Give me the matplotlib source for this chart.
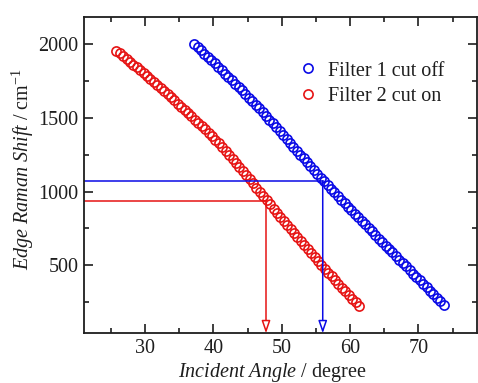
import matplotlib
matplotlib.use("Agg")
import matplotlib.pyplot as plt
from matplotlib.ticker import MultipleLocator

# =========================
# DATA
# =========================
filter1_angle = [37.2, 37.7, 38.2, 38.7, 39.2, 39.7, 40.2, 40.7, 41.2, 41.7,
                 42.2, 42.7, 43.2, 43.7, 44.2, 44.7, 45.2, 45.7, 46.2, 46.7,
                 47.2, 47.7, 48.2, 48.7, 49.2, 49.7, 50.2, 50.7, 51.2, 51.7,
                 52.2, 52.7, 53.2, 53.7, 54.2, 54.7, 55.2, 55.7, 56.2, 56.7,
                 57.2, 57.7, 58.2, 58.7, 59.2, 59.7, 60.2, 60.7, 61.2, 61.7,
                 62.2, 62.7, 63.2, 63.7, 64.2, 64.7, 65.2, 65.7, 66.2, 66.7,
                 67.2, 67.7, 68.2, 68.7, 69.2, 69.7, 70.2, 70.7, 71.2, 71.7,
                 72.2, 72.7, 73.2, 73.7]
filter1_shift = [2000, 1978, 1956, 1934, 1912, 1890, 1868, 1845, 1823, 1800,
                 1777, 1754, 1731, 1708, 1685, 1661, 1637, 1612, 1588, 1563,
                 1538, 1513, 1487, 1462, 1436, 1410, 1384, 1357, 1331, 1304,
                 1277, 1250, 1224, 1197, 1171, 1145, 1119, 1094, 1068, 1043,
                 1018, 994, 969, 945, 921, 896, 872, 848, 824, 800,
                 777, 753, 729, 705, 681, 658, 634, 610, 587, 563,
                 539, 516, 492, 468, 444, 421, 397, 373, 350, 326,
                 302, 279, 255, 231]

filter2_angle = [25.8, 26.3, 26.8, 27.3, 27.8, 28.3, 28.8, 29.3, 29.8, 30.3,
                 30.8, 31.3, 31.8, 32.3, 32.8, 33.3, 33.8, 34.3, 34.8, 35.3,
                 35.8, 36.3, 36.8, 37.3, 37.8, 38.3, 38.8, 39.3, 39.8, 40.3,
                 40.8, 41.3, 41.8, 42.3, 42.8, 43.3, 43.8, 44.3, 44.8, 45.3,
                 45.8, 46.3, 46.8, 47.3, 47.8, 48.3, 48.8, 49.3, 49.8, 50.3,
                 50.8, 51.3, 51.8, 52.3, 52.8, 53.3, 53.8, 54.3, 54.8, 55.3,
                 55.8, 56.3, 56.8, 57.3, 57.8, 58.3, 58.8, 59.3, 59.8, 60.3,
                 60.8, 61.3]
filter2_shift = [1955, 1937, 1918, 1899, 1880, 1861, 1842, 1822, 1802, 1782,
                 1762, 1742, 1722, 1701, 1681, 1660, 1639, 1618, 1596, 1575,
                 1553, 1532, 1510, 1488, 1466, 1443, 1421, 1398, 1375, 1352,
                 1327, 1301, 1275, 1248, 1221, 1194, 1167, 1139, 1111, 1083,
                 1055, 1027, 998, 970, 941, 913, 884, 856, 828, 800,
                 772, 744, 717, 689, 662, 635, 608, 582, 555, 529,
                 503, 476, 450, 425, 399, 373, 348, 323, 298, 273,
                 249, 225]

# cut-off / cut-on markers: (angle, shift)
filter1_mark = (56.0, 1072)
filter2_mark = (47.7, 936)

labels = ["Filter 1 cut off", "Filter 2 cut on"]
BLUE = "#0a0ae6"
RED = "#e61414"
INK = "#1e1e1e"

# =========================
# STYLE
# =========================
plt.rcParams["font.family"] = ["Liberation Serif", "DejaVu Serif"]
plt.rcParams["mathtext.fontset"] = "custom"
plt.rcParams["mathtext.rm"] = "Liberation Serif"
plt.rcParams["mathtext.it"] = "Liberation Serif:italic"

fig = plt.figure(figsize=(4.78, 3.83), dpi=100)
ax = fig.add_axes([0.1757, 0.1298, 0.8212, 0.8258])

ax.plot(filter1_angle, filter1_shift, "o", ms=6.6, mfc="none", mec=BLUE,
        mew=1.2, label=labels[0])
ax.plot(filter2_angle, filter2_shift, "o", ms=6.6, mfc="none", mec=RED,
        mew=1.2, label=labels[1])

xmin, xmax = 21.07, 78.5
ymin, ymax = 39, 2183
ax.set_xlim(xmin, xmax)
ax.set_ylim(ymin, ymax)

# guide lines with open arrow heads down to the x axis
for (ang, shift), col in [(filter1_mark, BLUE), (filter2_mark, RED)]:
    ax.plot([xmin, ang], [shift, shift], color=col, lw=1.1)
    ax.annotate("", xy=(ang, ymin), xytext=(ang, shift),
                arrowprops=dict(arrowstyle="-|>,head_length=0.75,head_width=0.26",
                                color=col, fc="white", lw=1.1,
                                shrinkA=0, shrinkB=0))

ax.xaxis.set_major_locator(MultipleLocator(10))
ax.xaxis.set_minor_locator(MultipleLocator(5))
ax.yaxis.set_major_locator(MultipleLocator(500))
ax.yaxis.set_minor_locator(MultipleLocator(250))
ax.tick_params(which="both", direction="in", top=True, right=True,
               width=1.2, labelsize=14.5, colors=INK)
ax.tick_params(which="major", length=6.5, pad=4)
ax.tick_params(which="minor", length=3.5)
for s in ax.spines.values():
    s.set_linewidth(1.3)
    s.set_color(INK)

ax.set_xlabel(r"$\mathit{Incident\ Angle}$ / degree", fontsize=14.5,
              labelpad=2, color=INK)
ax.set_ylabel(r"$\mathit{Edge\ Raman\ Shift}$ / cm$^{-1}$", fontsize=14.5,
              labelpad=2, color=INK)
ax.xaxis.label.set_x(0.48)
ax.yaxis.label.set_y(0.52)

leg = ax.legend(loc="upper left", bbox_to_anchor=(0.525, 0.885), frameon=False,
                handlelength=1.0, handletextpad=0.5, labelspacing=0.3,
                borderaxespad=0, fontsize=14.5)
for t in leg.get_texts():
    t.set_color(INK)

fig.savefig("out.png", dpi=100)
